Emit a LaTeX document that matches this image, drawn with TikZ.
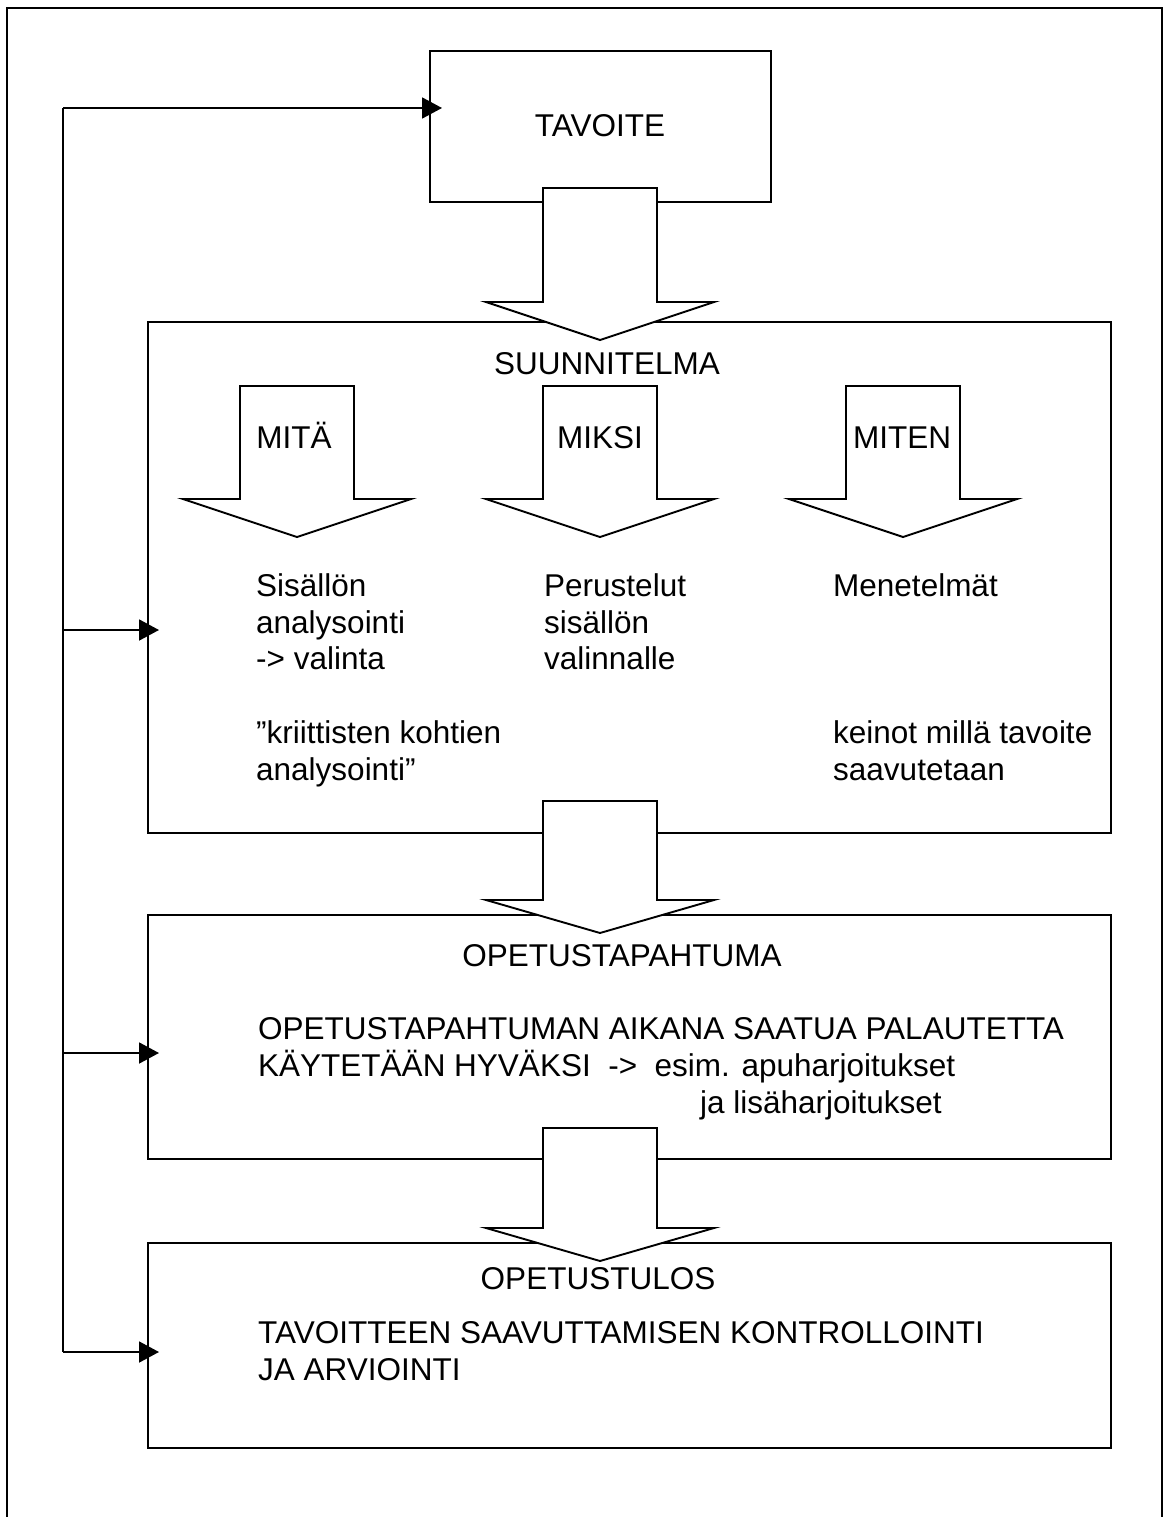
\documentclass[tikz,border=0pt]{standalone}
\usepackage{fontspec}
\setmainfont{Liberation Sans}
\usetikzlibrary{arrows.meta,calc}
\tikzset{
  box/.style={draw, line width=1.9pt, rectangle, inner sep=0pt, anchor=north west},
  txt/.style={inner sep=0pt, font=\fontsize{31.5}{36.5}\selectfont},
  fatarr/.style={draw, fill=white, line width=1.9pt, line join=miter},
  fb/.style={line width=1.9pt, -{Triangle[length=20pt,width=21pt]}},
  frame/.style={line width=2.2pt}
}
\newcommand{\fatdown}[4]{%
  \path[fatarr] (#1-57,#2) -- (#1+57,#2) -- (#1+57,#3) -- (#1+114,#3) -- (#1,#4)
     -- (#1-114,#3) -- (#1-57,#3) -- cycle;}
\begin{document}
\begin{tikzpicture}[x=1pt,y=-1pt]
\useasboundingbox (0,0) rectangle (1164,1517);
% outer frame
\draw[frame] (7,1517) -- (7,8) -- (1162,8) -- (1162,1517);
% boxes
\node[box, minimum width=341pt, minimum height=151pt] (tav) at (429,50) {};
\node[box, minimum width=963pt, minimum height=511pt] (sun) at (147,321) {};
\node[box, minimum width=963pt, minimum height=244pt] (ope) at (147,914) {};
\node[box, minimum width=963pt, minimum height=205pt] (tul) at (147,1242) {};
% big arrows
\fatdown{600}{188}{302}{340}
\fatdown{600}{801}{900}{933}
\fatdown{600}{1128}{1228}{1261}
% small arrows
\fatdown{297}{386}{499}{537}
\fatdown{600}{386}{499}{537}
\fatdown{903}{386}{499}{537}
% feedback
\coordinate (fb1) at (63,108);
\coordinate (fb2) at (63,630);
\coordinate (fb3) at (63,1053);
\coordinate (fb4) at (63,1352);
\draw[line width=1.9pt] (fb1) -- (fb4);
\draw[fb] (fb1) -- ($(tav.west |- fb1)+(13pt,0)$);
\draw[fb] (fb2) -- ($(sun.west |- fb2)+(12pt,0)$);
\draw[fb] (fb3) -- ($(ope.west |- fb3)+(12pt,0)$);
\draw[fb] (fb4) -- ($(tul.west |- fb4)+(12pt,0)$);
% texts
\node[txt, anchor=base] (t1) at (600,137) {TAVOITE};
\node[txt, anchor=base] (t2) at (607,374) {SUUNNITELMA};
\node[txt, anchor=base] (m1) at (294,448) {MITÄ};
\node[txt, anchor=base] (m2) at (600,448) {MIKSI};
\node[txt, anchor=base] (m3) at (902,448) {MITEN};
\node[txt, anchor=base west] (a1) at (256,596) {Sisällön};
\node[txt, anchor=base west] (a2) at (256,633) {analysointi};
\node[txt, anchor=base west] (a3) at (256,669) {-> valinta};
\node[txt, anchor=base west] (a4) at (256,743) {”kriittisten kohtien};
\node[txt, anchor=base west] (a5) at (256,780) {analysointi”};
\node[txt, anchor=base west] (b1) at (544,596) {Perustelut};
\node[txt, anchor=base west] (b2) at (544,633) {sisällön};
\node[txt, anchor=base west] (b3) at (544,669) {valinnalle};
\node[txt, anchor=base west] (c1) at (833,596) {Menetelmät};
\node[txt, anchor=base west] (c2) at (833,743) {keinot millä tavoite};
\node[txt, anchor=base west] (c3) at (833,780) {saavutetaan};
\node[txt, anchor=base] (o0) at (622,966) {OPETUSTAPAHTUMA};
\node[txt, anchor=base west] (o1) at (258,1039) {OPETUSTAPAHTUMAN AIKANA SAATUA PALAUTETTA};
\node[txt, anchor=base west] (o2) at (258,1076) {KÄYTETÄÄN HYVÄKSI\ \ ->\ \ esim. apuharjoitukset};
\node[txt, anchor=base west] (o3) at (700,1113) {ja lisäharjoitukset};
\node[txt, anchor=base] (u0) at (598,1289) {OPETUSTULOS};
\node[txt, anchor=base west] (u1) at (258,1343) {TAVOITTEEN SAAVUTTAMISEN KONTROLLOINTI};
\node[txt, anchor=base west] (u2) at (258,1380) {JA ARVIOINTI};
\end{tikzpicture}
\end{document}
